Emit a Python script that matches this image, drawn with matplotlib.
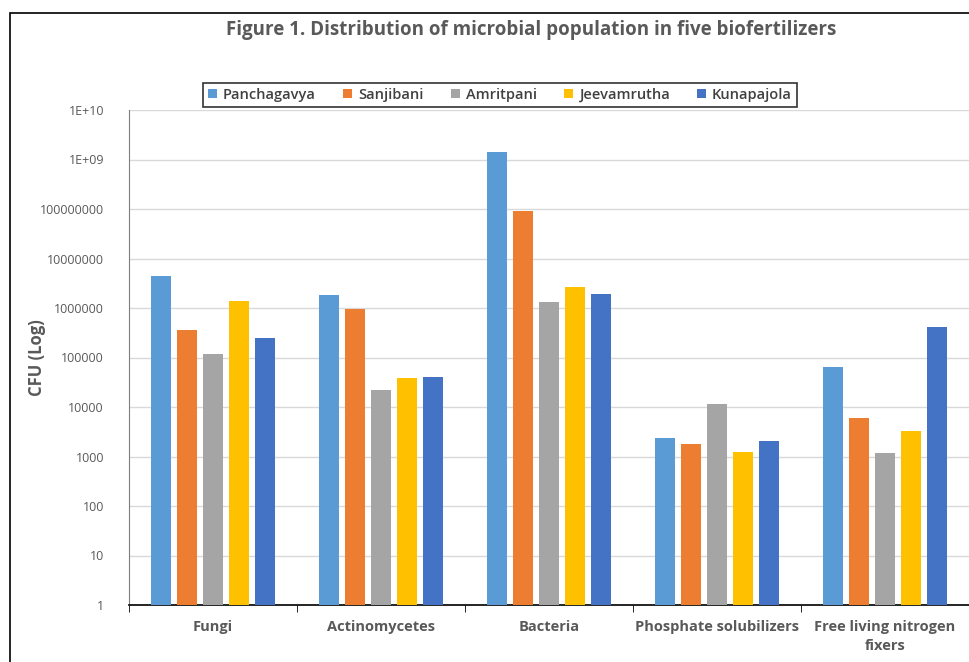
import numpy as np
import matplotlib.pyplot as plt
from matplotlib.patches import Rectangle
from matplotlib.ticker import FixedLocator, NullLocator

categories = ["Fungi", "Actinomycetes", "Bacteria", "Phosphate solubilizers",
              "Free living nitrogen\nfixers"]
series_names = ["Panchagavya", "Sanjibani", "Amritpani", "Jeevamrutha", "Kunapajola"]
panchagavya = [4.4e6, 1.8e6, 1.4e9, 2.4e3, 6.3e4]
sanjibani = [3.6e5, 9.4e5, 9.0e7, 1.8e3, 5.9e3]
amritpani = [1.2e5, 2.2e4, 1.3e6, 1.15e4, 1.2e3]
jeevamrutha = [1.4e6, 3.9e4, 2.7e6, 1.25e3, 3.2e3]
kunapajola = [2.5e5, 4.1e4, 1.9e6, 2.1e3, 4.2e5]
ytick_values = [1, 10, 100, 1000, 1e4, 1e5, 1e6, 1e7, 1e8, 1e9, 1e10]
ytick_labels = ["1", "10", "100", "1000", "10000", "100000", "1000000",
                "10000000", "100000000", "1E+09", "1E+10"]

colors = ["#5B9BD5", "#ED7D31", "#A5A5A5", "#FFC000", "#4472C4"]
TEXT = "#595959"
plt.rcParams['font.family'] = ['Open Sans', 'DejaVu Sans']

fig = plt.figure(figsize=(9.69, 6.62), dpi=100)
ax = fig.add_axes([129 / 969, 1 - 605 / 662, 1 - 129 / 969, 495 / 662])

series = [panchagavya, sanjibani, amritpani, jeevamrutha, kunapajola]
x = np.arange(len(categories))
pitch = 0.154
width = 0.118
for i, (name, vals) in enumerate(zip(series_names, series)):
    ax.bar(x + (i - 2) * pitch, vals, width=width, color=colors[i], label=name, zorder=3)

ax.set_yscale('log')
ax.set_ylim(1, 1e10)
ax.set_xlim(-0.5, len(categories) - 0.5)
ax.yaxis.set_major_locator(FixedLocator(ytick_values))
ax.yaxis.set_minor_locator(NullLocator())
ax.set_yticklabels(ytick_labels)
ax.tick_params(axis='y', length=0, labelsize=9, labelcolor=TEXT, pad=18)
ax.grid(axis='y', color='#D9D9D9', linewidth=1, zorder=0)

ax.set_xticks(x)
ax.set_xticklabels(categories, fontsize=10.5, fontweight='bold', color=TEXT, linespacing=1.4)
ax.tick_params(axis='x', length=0, pad=11)
ax.set_xticks(np.arange(len(categories) + 1) - 0.5, minor=True)
ax.tick_params(axis='x', which='minor', length=5, direction='out', color='black')

for s in ['top', 'right']:
    ax.spines[s].set_visible(False)
ax.spines['left'].set_color('#7F7F7F')
ax.spines['bottom'].set_color('black')
ax.spines['bottom'].set_linewidth(1.2)

ax.set_ylabel("CFU (Log)", fontsize=12, fontweight='bold', color=TEXT)
ax.yaxis.set_label_coords(-(129 - 46) / 840, 0.5)

fig.text(0.548, 1 - 30 / 662, "Figure 1. Distribution of microbial population in five biofertilizers",
         ha='center', va='center', fontsize=13.5, fontweight='bold', color=TEXT)

leg = fig.legend(loc='center', bbox_to_anchor=(500 / 969, 1 - 95 / 662), ncol=5,
                 fontsize=10.5, frameon=True, fancybox=False, edgecolor='black',
                 handlelength=0.6, handleheight=0.6, handletextpad=0.4,
                 columnspacing=1.9, borderpad=0.35)
leg.get_frame().set_linewidth(1.2)
for t in leg.get_texts():
    t.set_color('#404040')
    t.set_fontweight('semibold')

# outer chart border (left and top visible in the crop)
fig.patches.append(Rectangle((10 / 969, -0.1), 1.2, 1 - 13 / 662 + 0.1,
                             transform=fig.transFigure, fill=False,
                             edgecolor='black', linewidth=1.2))

fig.savefig("out.png", dpi=100)
